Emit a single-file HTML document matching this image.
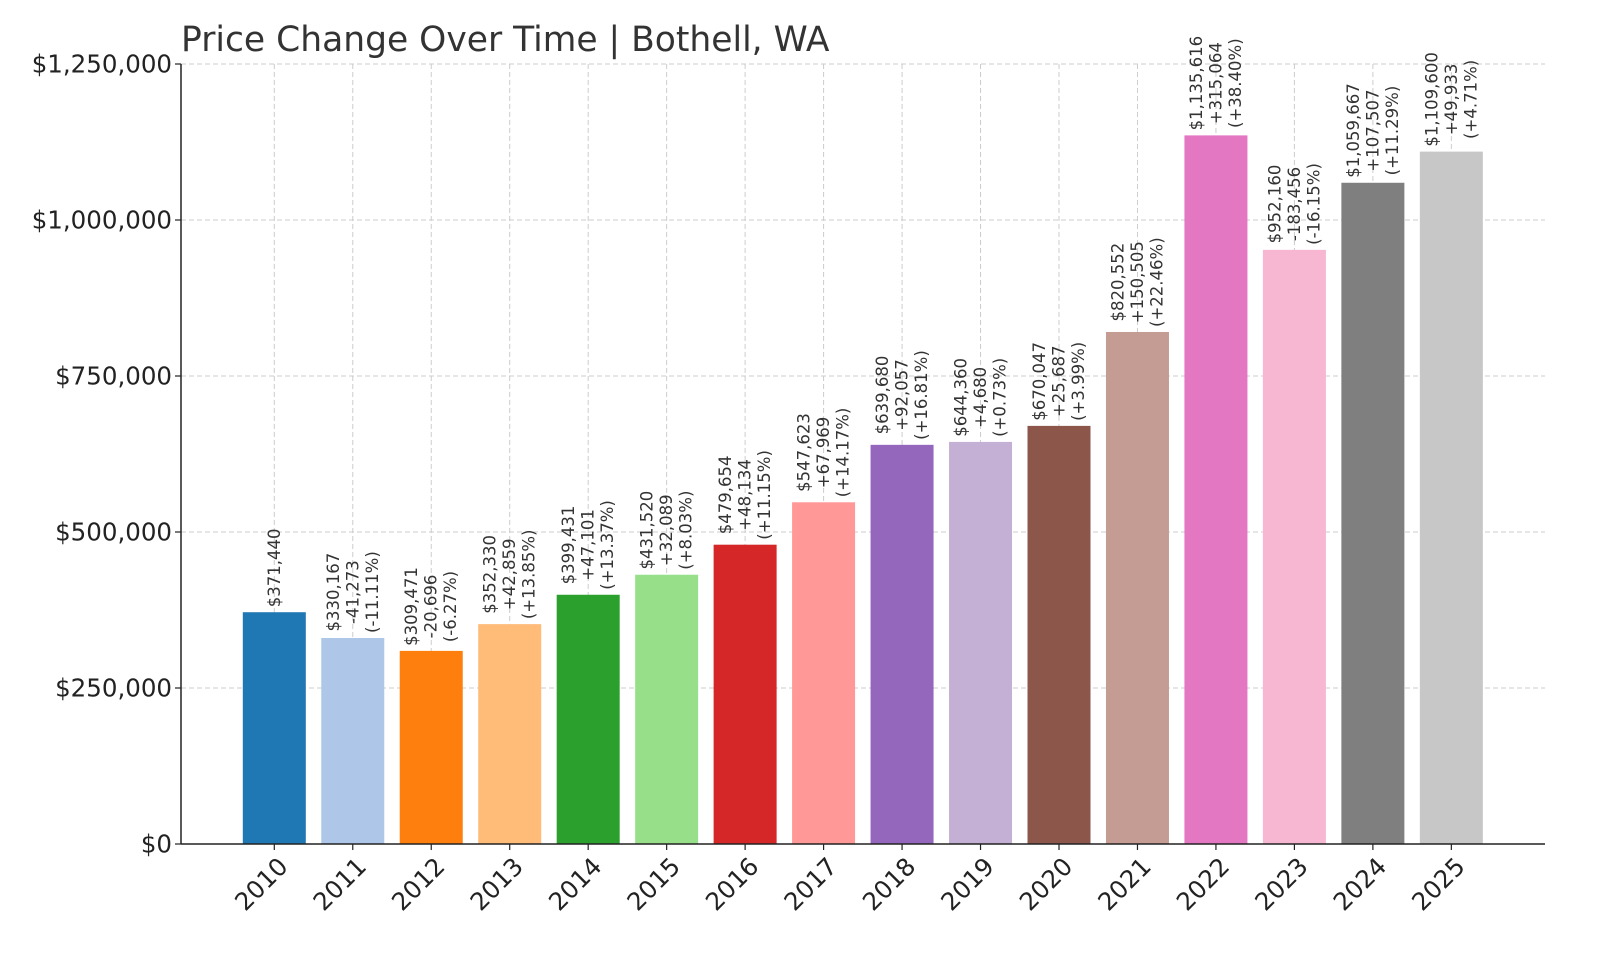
<!DOCTYPE html>
<html><head><meta charset="utf-8"><style>
html,body{margin:0;padding:0;background:#fff}
svg{display:block;font-family:"DejaVu Sans","Liberation Sans",sans-serif}
</style></head><body>
<svg id="chart" width="1600" height="960" viewBox="0 0 1600 960">
<text x="181" y="51" font-size="34.5" fill="#333">Price Change Over Time | Bothell, WA</text>
<g id="grid"></g>
<g id="bars"></g>
<g id="labels"></g>
<g id="axes"></g>
</svg>
<script>
const years = ["2010","2011","2012","2013","2014","2015","2016","2017","2018","2019","2020","2021","2022","2023","2024","2025"];
const values = [371440,330167,309471,352330,399431,431520,479654,547623,639680,644360,670047,820552,1135616,952160,1059667,1109600];
const changes = ["","-41,273","-20,696","+42,859","+47,101","+32,089","+48,134","+67,969","+92,057","+4,680","+25,687","+150,505","+315,064","-183,456","+107,507","+49,933"];
const pcts = ["","(-11.11%)","(-6.27%)","(+13.85%)","(+13.37%)","(+8.03%)","(+11.15%)","(+14.17%)","(+16.81%)","(+0.73%)","(+3.99%)","(+22.46%)","(+38.40%)","(-16.15%)","(+11.29%)","(+4.71%)"];
const yTicks = [0,250000,500000,750000,1000000,1250000];
const yTickLabels = ["$0","$250,000","$500,000","$750,000","$1,000,000","$1,250,000"];
const colors = ["#1f77b4","#aec7e8","#ff7f0e","#ffbb78","#2ca02c","#98df8a","#d62728","#ff9896","#9467bd","#c5b0d5","#8c564b","#c49c94","#e377c2","#f7b6d2","#7f7f7f","#c7c7c7"];

const NS="http://www.w3.org/2000/svg";
const L=181,R=1545,T=64,B=844,YMAX=1250000;
const y=v=>B-(v/YMAX)*(B-T);
const step=78.47, x0=274.3;
const x=i=>x0+i*step;
const bw=63;
function mk(tag,attrs,parent){const e=document.createElementNS(NS,tag);for(const k in attrs)e.setAttribute(k,attrs[k]);parent.appendChild(e);return e;}
const grid=document.getElementById('grid'),bars=document.getElementById('bars'),labels=document.getElementById('labels'),axes=document.getElementById('axes');

yTicks.forEach((t,i)=>{
  const gl=mk('line',{x1:L,x2:R,y1:y(t),y2:y(t),stroke:'#ccc','stroke-width':1,'stroke-dasharray':'5,3'},grid);
  
  
  const tk=mk('line',{x1:L-6,x2:L,y1:y(t),y2:y(t),stroke:'#222','stroke-width':1.2},axes);
  
  
  const tl=mk('text',{x:L-9,y:y(t)+8.5,'text-anchor':'end','font-size':24.5,fill:'#222'},axes);
  tl.textContent=yTickLabels[i];
  
  
});
years.forEach((yr,i)=>{
  const cx=x(i);
  const gl=mk('line',{x1:cx,x2:cx,y1:T,y2:B,stroke:'#ccc','stroke-width':1,'stroke-dasharray':'5,3'},grid);
  
  
  const r=mk('rect',{x:cx-bw/2,y:y(values[i]),width:bw,height:B-y(values[i]),fill:colors[i]},bars);
  
  
  const tk=mk('line',{x1:cx,x2:cx,y1:B,y2:B+6,stroke:'#222','stroke-width':1.2},axes);
  
  
  const xl=mk('text',{x:0,y:0,'text-anchor':'end','font-size':24.5,fill:'#222',transform:`translate(${cx+15},${B+24}) rotate(-45)`},axes);
  xl.textContent=yr;
  
  
  const lines=["$"+values[i].toLocaleString('en-US')];
  if(changes[i])lines.push(changes[i],pcts[i]);
  const g=mk('g',{transform:`translate(${cx},${y(values[i])-5}) rotate(-90)`},labels);
  
  
  const n=lines.length, lh=19.5;
  const ts=lines.map((s,j)=>{
    const t=mk('text',{x:0,y:(j-(n-1)/2)*lh+5.5,'text-anchor':'middle','font-size':16.5,fill:'#333'},g);
    t.textContent=s;return t;
  });
  let mx=0;ts.forEach(t=>{mx=Math.max(mx,t.getComputedTextLength());});
  ts.forEach(t=>t.setAttribute('x',mx/2));
});
const ax1=mk('line',{x1:L,x2:L,y1:T,y2:B,stroke:'#222','stroke-width':1.5},axes);


const ax2=mk('line',{x1:L,x2:R,y1:B,y2:B,stroke:'#222','stroke-width':1.5},axes);


</script>
</body></html>
